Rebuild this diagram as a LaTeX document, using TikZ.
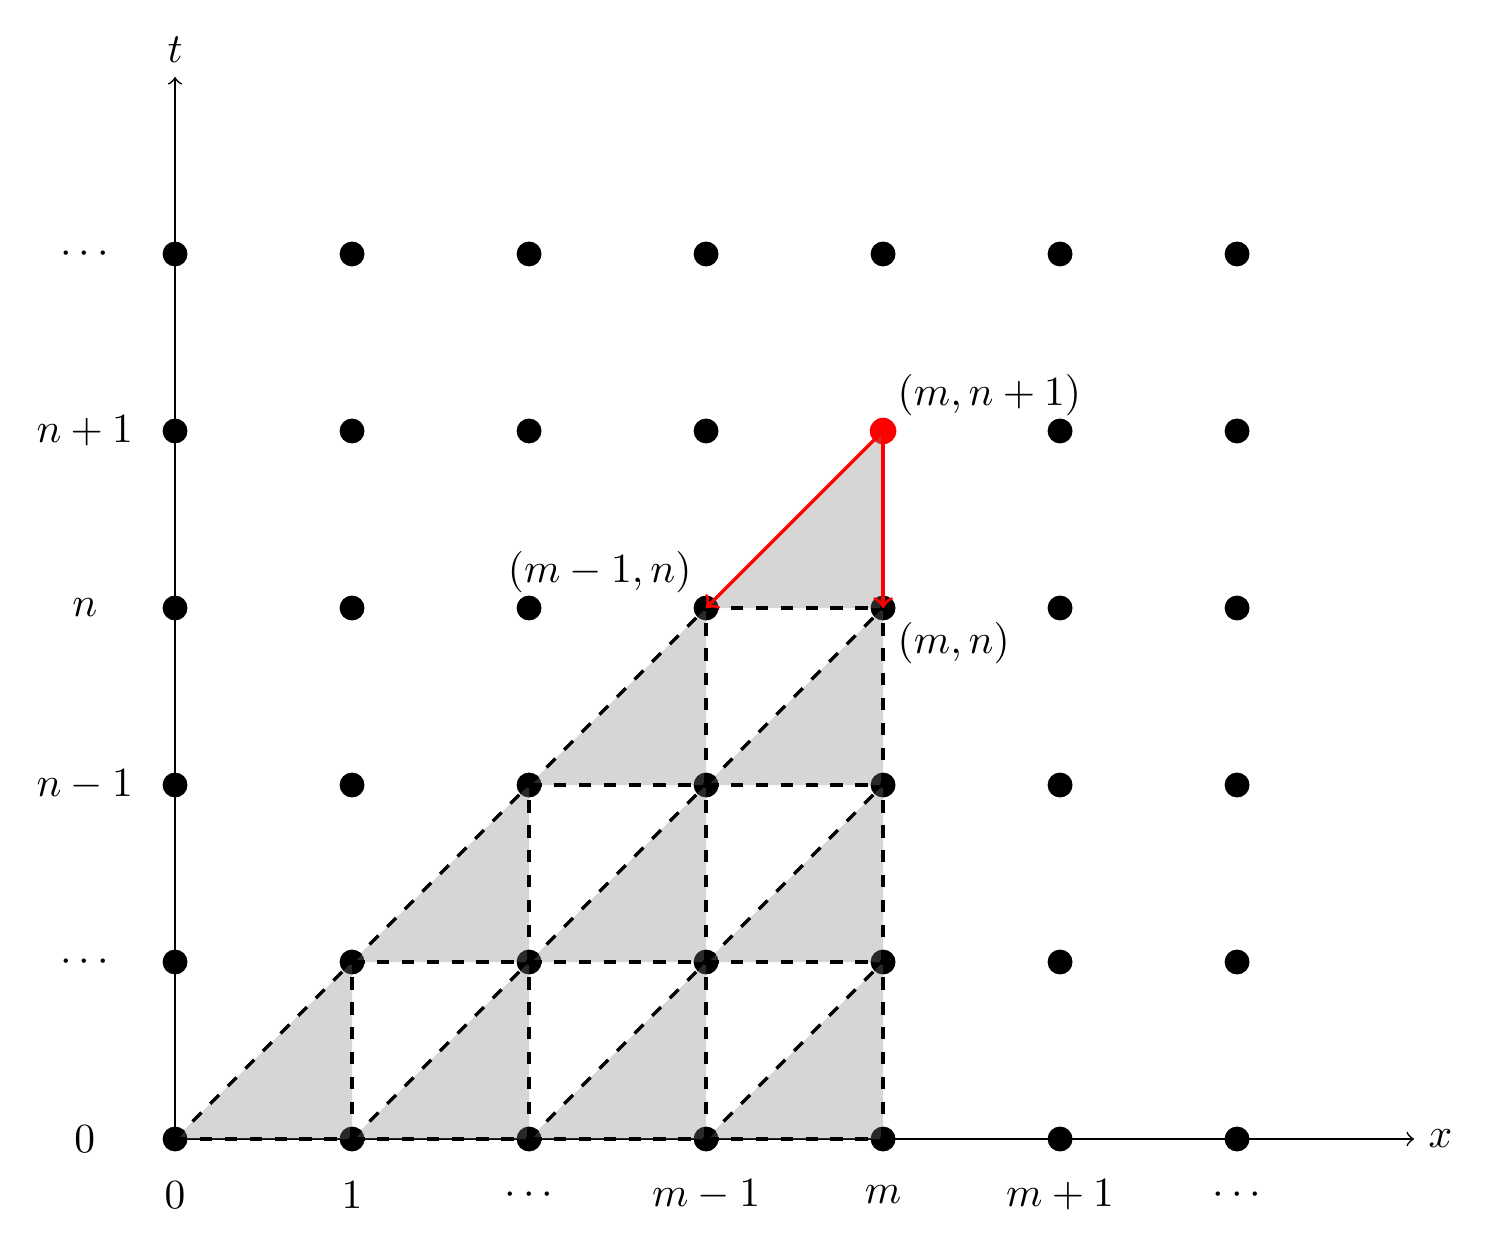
\documentclass[tikz,border=0pt]{standalone}
\begin{document}
\begin{tikzpicture}[x=1.5cm,y=1.5cm,
  dot/.style={circle,fill=black,inner sep=0pt,minimum size=6pt},
  reddot/.style={circle,fill=red,inner sep=0pt,minimum size=6.4pt},
  axis/.style={->},
  cell/.style={fill=gray,fill opacity=0.32,draw=none},
  edge/.style={thick,dashed},
  move/.style={->,thick,red},
  tick/.style={inner sep=0pt}]
\useasboundingbox (-0.989,-0.605) rectangle (7.429,6.435);
\coordinate (o) at (0,0);
\coordinate (xend) at (7,0);
\coordinate (tend) at (0,6);
\draw[axis] (o) -- (xend) node[right] (xlab) {$x$};
\draw[axis] (o) -- (tend) node[above] (tlab) {$t$};
% lattice points
\foreach \i in {0,...,6}{
  \foreach \j in {0,...,5}{
    \ifnum\i\j=44 \else
      \node[dot] (p-\i-\j) at (\i,\j) {};
    \fi
  }
}
\node[reddot] (p-4-4) at (4,4) {};
% shaded triangles
\foreach \j in {0,...,3}{
  \foreach \i in {\j,...,3}{
    \pgfmathtruncatemacro\ii{\i+1}
    \pgfmathtruncatemacro\jj{\j+1}
    \fill[cell] (p-\i-\j.center) -- (p-\ii-\j.center) -- (p-\ii-\jj.center) -- cycle;
  }
}
% dashed edges
\foreach \j in {0,...,3}{
  \foreach \i in {\j,...,3}{
    \pgfmathtruncatemacro\ii{\i+1}
    \pgfmathtruncatemacro\jj{\j+1}
    \draw[edge] (p-\i-\j.center) -- (p-\ii-\j.center);
    \ifnum\i\j=33 \else
      \draw[edge] (p-\ii-\j.center) -- (p-\ii-\jj.center);
      \draw[edge] (p-\i-\j.center) -- (p-\ii-\jj.center);
    \fi
  }
}
% red moves
\draw[move] (p-4-4.center) -- (p-3-3.center);
\draw[move] (p-4-4.center) -- (p-4-3.center);
% point labels
\node[above right] (l-44) at (p-4-4.center) {$(m,n+1)$};
\node[above left] (l-33) at (p-3-3.center) {$(m-1,n)$};
\node[below right] (l-43) at (p-4-3.center) {$(m,n)$};
% axis tick labels
\node (xt-0) at (0,-0.316) {$0$};
\node (xt-1) at (1,-0.316) {$1$};
\node (xt-2) at (2,-0.316) {$\cdots$};
\node (xt-3) at (3,-0.316) {$m-1$};
\node (xt-4) at (4,-0.316) {$m$};
\node (xt-5) at (5,-0.316) {$m+1$};
\node (xt-6) at (6,-0.316) {$\cdots$};
\node (yt-0) at (-0.51,0) {$0$};
\node (yt-1) at (-0.51,1) {$\cdots$};
\node (yt-2) at (-0.51,2) {$n-1$};
\node (yt-3) at (-0.51,3) {$n$};
\node (yt-4) at (-0.51,4) {$n+1$};
\node (yt-5) at (-0.51,5) {$\cdots$};
\end{tikzpicture}
\end{document}
